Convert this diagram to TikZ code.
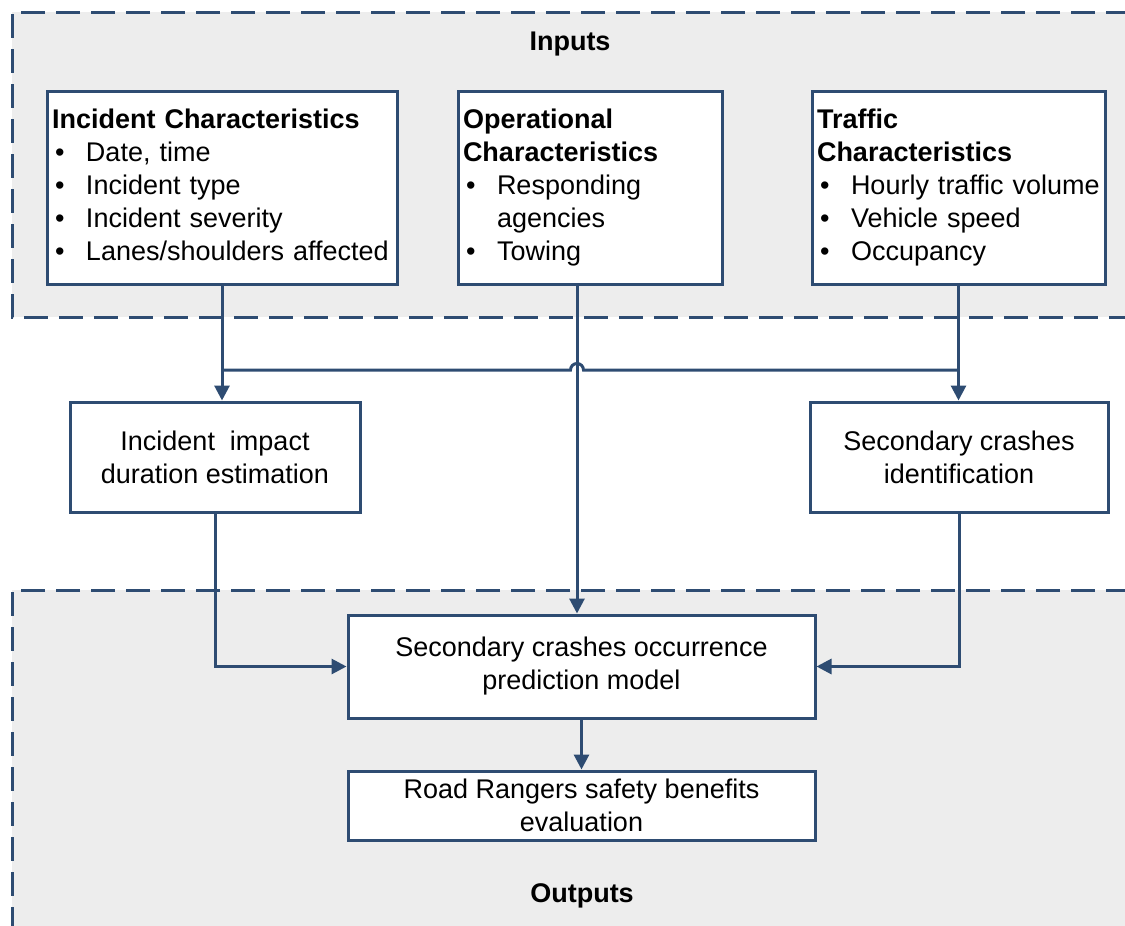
\documentclass[tikz,border=0pt]{standalone}
\usepackage{fontspec}
\setmainfont{Liberation Sans}
\usetikzlibrary{arrows.meta,calc}
\definecolor{bdr}{HTML}{2E4C72}
\definecolor{zone}{HTML}{EDEDED}
\newcommand\itm[1]{\mbox{\makebox[34pt][l]{\hspace{3pt}\textbullet}#1}}
\newcommand\cnt{\hspace*{34pt}}
\begin{document}
\begin{tikzpicture}[x=1pt,y=-1pt,
  every node/.style={font=\fontsize{27}{33}\selectfont},
  inbox/.style={draw=bdr,line width=3pt,fill=white,rectangle,align=left,inner xsep=5pt,inner ysep=0pt,minimum height=193pt},
  midbox/.style={draw=bdr,line width=3pt,fill=white,align=center,inner sep=0pt},
  ttl/.style={font=\fontsize{27}{33}\selectfont\bfseries,anchor=base},
  conn/.style={draw=bdr,line width=3pt},
  arr/.style={conn,-{Triangle[length=15pt,width=15pt]}},
  zonebd/.style={draw=bdr,line width=3pt,dash pattern=on 24pt off 11pt}
]
\useasboundingbox (0,0) rectangle (1125,926);
\fill[zone] (12,12) rectangle (1130,317);
\fill[zone] (12,590) rectangle (1130,930);
\draw[zonebd] (1130,12) -- (12,12) -- (12,317) -- (1130,317);
\draw[zonebd] (1130,590) -- (12,590) -- (12,930);

\node[ttl] (tin) at (570,50) {Inputs};
\node[ttl] (tout) at (582,902) {Outputs};

\node[inbox,text width=340pt] (inc) at (222,187.5)
  {\textbf{Incident Characteristics}\\\itm{Date, time}\\\itm{Incident type}\\\itm{Incident severity}\\\itm{Lanes/shoulders affected\vphantom{gy}}};
\node[inbox,text width=254pt] (op) at (590,187.5)
  {\textbf{Operational}\\\textbf{Characteristics}\\\itm{Responding}\\\cnt agencies\\\itm{Towing}};
\node[inbox,text width=283pt] (traf) at (958.5,187.5)
  {\textbf{Traffic}\\\textbf{Characteristics}\\\itm{Hourly traffic volume}\\\itm{Vehicle speed}\\\itm{Occupancy}};

\node[midbox,minimum width=290pt,minimum height=110pt] (imp) at (215,457)
  {Incident\ \ impact\\duration estimation};
\node[midbox,minimum width=298pt,minimum height=110pt] (sec) at (959,457)
  {Secondary crashes\\identification};
\node[midbox,minimum width=467pt,minimum height=103pt] (pred) at (581.5,666.5)
  {Secondary crashes occurrence\\prediction model};
\node[midbox,minimum width=467pt,minimum height=69pt] (road) at (581.5,805.5)
  {Road Rangers safety benefits\\evaluation};

\coordinate (ox) at (577,0);
\coordinate (j1) at (inc.south |- 0,370);
\coordinate (j2) at (traf.south |- 0,370);
\draw[conn] (inc.south) -- (j1);
\draw[arr] (j1) -- (j1 |- imp.north);
\draw[arr] (traf.south) -- (traf.south |- sec.north);
\draw[conn] (j1) -- ($(ox |- j1)+(-6.5,0)$) arc[start angle=180,end angle=0,radius=6.5pt] -- (j2);
\draw[arr] (op.south -| ox) -- (ox |- pred.north);
\draw[arr] (imp.south) |- (pred.west);
\draw[arr] (sec.south) |- (pred.east);
\draw[arr] (pred.south) -- (road.north);
\end{tikzpicture}
\end{document}
